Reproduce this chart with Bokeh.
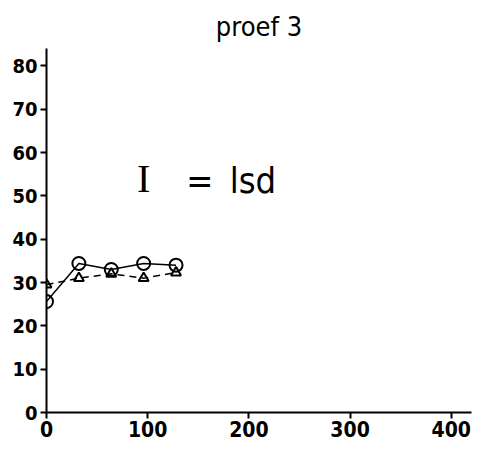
from bokeh.plotting import figure
from bokeh.models import Range1d, Label, FixedTicker
from bokeh.embed import file_html
from bokeh.resources import INLINE

# data
days = [0, 32, 64, 96, 128]
circle_vals = [25.6, 34.4, 33.0, 34.4, 34.0]
triangle_vals = [29.5, 31.0, 32.0, 31.0, 32.3]
x_ticks = [0, 100, 200, 300, 400]
y_ticks = [0, 10, 20, 30, 40, 50, 60, 70, 80]
title_text = "proef 3"

FONT = "DejaVu Sans Condensed"

p = figure(width=483, height=450, output_backend="svg", toolbar_location=None,
           x_range=Range1d(0, 420), y_range=Range1d(0, 84),
           min_border_left=46, min_border_right=12, min_border_top=48, min_border_bottom=38)
p.title.text = title_text
p.title.align = "center"
p.title.text_font = FONT
p.title.text_font_size = "27px"
p.title.text_font_style = "normal"
p.title.text_color = "black"
p.title.standoff = 14
p.outline_line_color = None
p.xgrid.visible = False
p.ygrid.visible = False

for ax in (p.xaxis[0], p.yaxis[0]):
    ax.axis_line_width = 2
    ax.axis_line_color = "black"
    ax.major_tick_line_width = 2
    ax.major_tick_line_color = "black"
    ax.major_tick_in = 0
    ax.major_tick_out = 6
    ax.minor_tick_line_color = None
    ax.major_label_text_font = FONT
    ax.major_label_text_font_style = "bold"
    ax.major_label_text_color = "black"

p.xaxis[0].ticker = FixedTicker(ticks=x_ticks)
p.yaxis[0].ticker = FixedTicker(ticks=y_ticks)
p.xaxis[0].major_label_text_font_size = "21px"
p.yaxis[0].major_label_text_font_size = "20px"
p.xaxis[0].major_label_standoff = 2
p.yaxis[0].major_label_standoff = 3

p.line(days, circle_vals, line_color="black", line_width=1.5)
p.scatter(days, circle_vals, marker="circle", size=13, fill_color=None,
          line_color="black", line_width=2)
p.line(days, triangle_vals, line_color="black", line_width=1.5, line_dash="7 5")
p.scatter(days, triangle_vals, marker="triangle", size=10, fill_color=None,
          line_color="black", line_width=2)

p.add_layout(Label(x=96, y=48.9, text="I", text_font="Liberation Serif",
                   text_font_size="40px", text_align="center", text_color="black"))
p.add_layout(Label(x=138, y=48.9, text="=", text_font=FONT,
                   text_font_size="36px", text_align="left", text_color="black"))
p.add_layout(Label(x=181, y=48.9, text="lsd", text_font=FONT,
                   text_font_size="36px", text_align="left", text_color="black"))

open("out.html", "w").write(file_html(p, INLINE))
